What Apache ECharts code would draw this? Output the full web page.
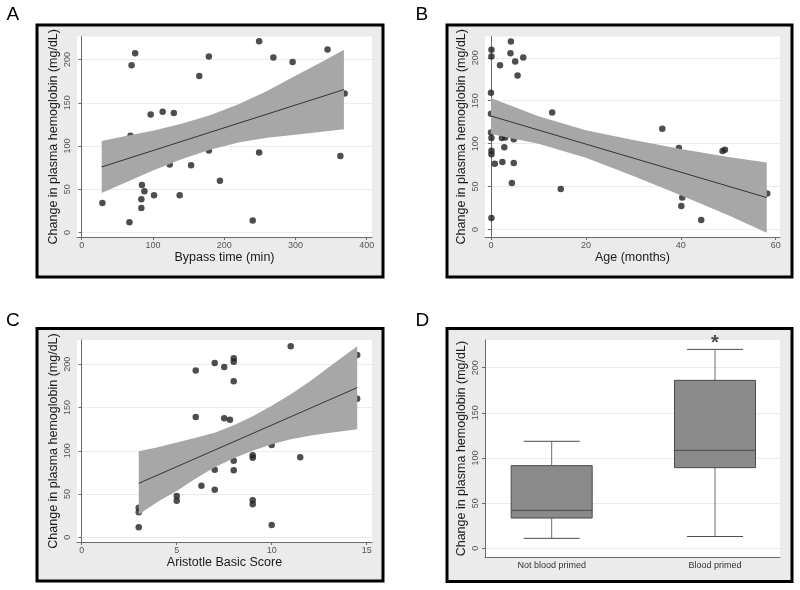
<!DOCTYPE html>
<html><head><meta charset="utf-8">
<script src="https://cdn.jsdelivr.net/npm/echarts@6/dist/echarts.min.js"></script>
<style>html,body{margin:0;padding:0;background:#fff}#c{width:800px;height:590px}</style>
</head><body><div id="c"></div><script>
// ---------- data ----------
const yTicks = [0, 50, 100, 150, 200];
const bypassTicks = [0, 100, 200, 300, 400];
const ageTicks = [0, 20, 40, 60];
const scoreTicks = [0, 5, 10, 15];
const yName = 'Change in plasma hemoglobin (mg/dL)';
const panelLetters = ['A', 'B', 'C', 'D'];

// Panel A: bypass time
const bypassTime = [29, 67, 68.5, 70, 75, 84.5, 88, 83.7, 83.7, 96.8, 101.5, 113.6, 123.5, 129.3, 137.5, 153.5, 165, 178.5, 178.5, 194, 240, 249, 249, 269, 296, 345, 363, 369];
const bypassChange = [34.2, 11.8, 112, 193.4, 207.3, 55, 47.8, 38.5, 28.3, 136.4, 43.1, 139.7, 78.6, 138.2, 43, 77.8, 181, 203.5, 94.8, 60, 13.9, 221.2, 92.5, 202.3, 197.3, 211.6, 88.4, 160.7];
const fitA = [[28, 75.8], [368, 165.3]];
const bandAx = [28, 60, 100, 140, 180, 220, 260, 300, 340, 368];
const bandAup = [105.8, 111.2, 117.7, 125.7, 135.7, 148.2, 163.7, 181.2, 198.7, 211.3];
const bandAlo = [45.8, 57.2, 71.7, 84.7, 95.7, 104.2, 109.7, 113.2, 116.7, 119.3];

// Panel B: age
const ageMonths = [0.1, 0.1, 1.9, 4.2, 4.1, 5.1, 6.8, 5.6, 0, 0, 12.9, 0, 0.1, 2.3, 3.0, 4.8, 0.1, 0.1, 0.8, 2.4, 2.8, 4.8, 4.4, 14.7, 0.1, 36.1, 39.6, 48.8, 49.3, 40.3, 40.1, 44.3, 58.2];
const ageChange = [209.5, 201.5, 191.4, 219, 205.3, 195.7, 200.3, 179.4, 159.3, 134.9, 136.4, 113.1, 106.5, 106.5, 107.3, 105, 91.8, 87.6, 76.7, 78.6, 95.7, 77.5, 54.2, 47.2, 13.5, 117.4, 94.9, 91.4, 93, 37.2, 27.4, 11.2, 41.9];
const fitB = [[0, 132.2], [58.1, 37.2]];
const bandBx = [0, 10, 20, 30, 40, 50, 58.1];
const bandBup = [153.2, 131.9, 115.5, 104.2, 93.8, 84.5, 78.2];
const bandBlo = [111.2, 99.9, 83.5, 62.2, 39.8, 16.5, -3.8];

// Panel C: Aristotle score
const aristotle = [3, 3, 3, 5, 5, 6, 6, 6.3, 7, 7, 7, 7.5, 7.5, 7.8, 8, 8, 8, 8, 8, 9, 9, 9, 9, 10, 10, 11, 11.5, 14.5, 14.5];
const aristotleChange = [11.6, 34.3, 28.9, 47.8, 42.4, 192.7, 139.1, 59.7, 201.5, 78.2, 55.1, 196.9, 137.6, 136, 206.9, 203.1, 180.3, 88.6, 77.5, 94.8, 92.1, 42.8, 38.2, 106.7, 14.3, 220.8, 92.5, 210.8, 160.3];
const fitC = [[3, 62.4], [14.5, 173]];
const bandCx = [3, 4, 5, 6, 7, 8, 9, 10, 11, 12, 13, 14.5];
const bandCup = [99.4, 104, 109.6, 115, 120.9, 129.5, 140.1, 152, 165.3, 180, 196.6, 221];
const bandClo = [26.5, 41, 53.6, 68, 80.9, 91.5, 100.1, 107.5, 113.3, 117.5, 120.6, 125];

// Panel D: box plot [min, Q1, median, Q3, max]
const primeCategories = ['Not blood primed', 'Blood primed'];
const boxNotPrimed = [11, 33.5, 42, 91.5, 118.5];
const boxPrimed = [13, 89.3, 108.5, 186, 220.3];
const significanceMark = '*';

// ---------- helpers ----------
const FONT = 'Liberation Sans, Arial, sans-serif';
const grids = [
  { left: 77, top: 36.5, width: 295, height: 200.5 },
  { left: 485, top: 36.5, width: 295, height: 200.5 },
  { left: 77, top: 340, width: 295, height: 202 },
  { left: 485, top: 340, width: 295, height: 217.3 }
].map(g => Object.assign(g, { show: true, backgroundColor: '#ffffff', borderWidth: 0 }));

function yAxisFor(gi, min, max) {
  return {
    type: 'value', gridIndex: gi, min: min, max: max,
    name: yName, nameLocation: 'middle', nameGap: 17,
    nameTextStyle: { fontSize: 12.5, color: '#1a1a1a', fontFamily: FONT },
    axisLine: { show: true, lineStyle: { color: '#6a6a6a', width: 1 } },
    axisTick: { show: true, length: 3, customValues: yTicks, lineStyle: { color: '#6a6a6a' } },
    axisLabel: { customValues: yTicks, rotate: 90, fontSize: 9, color: '#555', margin: 5, fontFamily: FONT },
    splitLine: { show: true, lineStyle: { color: '#ececec', width: 1 } }
  };
}
function xAxisFor(gi, min, max, ticks, name) {
  return {
    type: 'value', gridIndex: gi, min: min, max: max,
    name: name, nameLocation: 'middle', nameGap: 14,
    nameTextStyle: { fontSize: 12.5, color: '#1a1a1a', fontFamily: FONT },
    axisLine: { show: true, onZero: false, lineStyle: { color: '#6a6a6a', width: 1 } },
    axisTick: { show: true, length: 3, customValues: ticks, lineStyle: { color: '#6a6a6a' } },
    axisLabel: { customValues: ticks, fontSize: 9, color: '#555', margin: 4, fontFamily: FONT },
    splitLine: { show: false }
  };
}
function zip(xs, ys) { return xs.map((x, i) => [x, ys[i]]); }
function scatterSeries(gi, xs, ys) {
  return { type: 'scatter', xAxisIndex: gi, yAxisIndex: gi, data: zip(xs, ys), symbolSize: 6.5,
    itemStyle: { color: '#222' }, z: 2, silent: true };
}
function bandSeries(gi, xs, up, lo) {
  return {
    type: 'custom', xAxisIndex: gi, yAxisIndex: gi, z: 3, silent: true, data: [[xs[0], up[0]]],
    renderItem: function (params, api) {
      const pts = [];
      for (let i = 0; i < xs.length; i++) pts.push(api.coord([xs[i], up[i]]));
      for (let i = xs.length - 1; i >= 0; i--) pts.push(api.coord([xs[i], lo[i]]));
      return { type: 'polygon', shape: { points: pts }, style: { fill: '#a7a7a7' } };
    }
  };
}
function fitSeries(gi, pts) {
  return { type: 'line', xAxisIndex: gi, yAxisIndex: gi, data: pts, symbol: 'none', z: 4, silent: true,
    lineStyle: { color: '#333', width: 1 } };
}

const frames = [
  { x: 37, y: 25, w: 346, h: 252 },
  { x: 447, y: 25, w: 345, h: 252 },
  { x: 37, y: 328.5, w: 346, h: 252.5 },
  { x: 447, y: 328.5, w: 345, h: 253 }
];
const letterPos = [[6.5, 5], [415.5, 5], [6, 311], [415.5, 311]];
const graphic = [];
frames.forEach(f => graphic.push({ type: 'rect', z: -10, shape: { x: f.x, y: f.y, width: f.w, height: f.h },
  style: { fill: '#ebebeb', stroke: '#000', lineWidth: 3 } }));
panelLetters.forEach((t, i) => graphic.push({ type: 'text', z: 10, x: letterPos[i][0], y: letterPos[i][1],
  style: { text: t, fontSize: 19, fontFamily: FONT, fill: '#000', textVerticalAlign: 'top' } }));

const chart = echarts.init(document.getElementById('c'), null, { renderer: 'canvas' });
chart.setOption({
  backgroundColor: '#ffffff',
  animation: false,
  textStyle: { fontFamily: FONT },
  graphic: graphic,
  grid: grids,
  xAxis: [
    xAxisFor(0, -6.6, 407.4, bypassTicks, 'Bypass time (min)'),
    xAxisFor(1, -1.26, 60.9, ageTicks, 'Age (months)'),
    xAxisFor(2, -0.25, 15.28, scoreTicks, 'Aristotle Basic Score'),
    {
      type: 'value', gridIndex: 3, min: 0.5917, max: 2.398,
      axisLine: { show: true, onZero: false, lineStyle: { color: '#6a6a6a', width: 1 } },
      axisTick: { show: false },
      axisLabel: { customValues: [1, 2], fontSize: 9, color: '#333', margin: 4, fontFamily: FONT,
        formatter: v => primeCategories[Math.round(v) - 1] },
      splitLine: { show: false }
    }
  ],
  yAxis: [
    yAxisFor(0, -5.2, 226.7),
    yAxisFor(1, -8.7, 224.8),
    yAxisFor(2, -5.4, 228.1),
    yAxisFor(3, -10, 230.7)
  ],
  series: [
    scatterSeries(0, bypassTime, bypassChange),
    bandSeries(0, bandAx, bandAup, bandAlo),
    fitSeries(0, fitA),
    scatterSeries(1, ageMonths, ageChange),
    bandSeries(1, bandBx, bandBup, bandBlo),
    fitSeries(1, fitB),
    scatterSeries(2, aristotle, aristotleChange),
    bandSeries(2, bandCx, bandCup, bandClo),
    fitSeries(2, fitC),
    {
      type: 'custom', xAxisIndex: 3, yAxisIndex: 3, silent: true,
      data: [[1].concat(boxNotPrimed), [2].concat(boxPrimed)],
      renderItem: function (params, api) {
        const xi = api.value(0);
        const lo = api.coord([xi, api.value(1)]);
        const q1 = api.coord([xi, api.value(2)]);
        const md = api.coord([xi, api.value(3)]);
        const q3 = api.coord([xi, api.value(4)]);
        const hi = api.coord([xi, api.value(5)]);
        const unit = api.size([1, 0])[0];
        const bw = unit * 0.496, cw = unit * 0.343;
        const cx = lo[0];
        const wl = { stroke: '#6e6e6e', lineWidth: 1 };
        const dl = { stroke: '#4a4a4a', lineWidth: 1 };
        return { type: 'group', children: [
          { type: 'line', shape: { x1: cx, y1: q3[1], x2: cx, y2: hi[1] }, style: wl },
          { type: 'line', shape: { x1: cx, y1: q1[1], x2: cx, y2: lo[1] }, style: wl },
          { type: 'line', shape: { x1: cx - cw / 2, y1: hi[1], x2: cx + cw / 2, y2: hi[1] }, style: dl },
          { type: 'line', shape: { x1: cx - cw / 2, y1: lo[1], x2: cx + cw / 2, y2: lo[1] }, style: dl },
          { type: 'rect', shape: { x: cx - bw / 2, y: q3[1], width: bw, height: q1[1] - q3[1] },
            style: { fill: '#8a8a8a', stroke: '#4a4a4a', lineWidth: 1 } },
          { type: 'line', shape: { x1: cx - bw / 2, y1: md[1], x2: cx + bw / 2, y2: md[1] }, style: dl }
        ] };
      }
    },
    {
      type: 'scatter', xAxisIndex: 3, yAxisIndex: 3, silent: true,
      data: [[2, boxPrimed[4]]], symbolSize: 1, itemStyle: { color: 'rgba(0,0,0,0)' },
      label: { show: true, position: 'top', distance: -5, formatter: significanceMark,
        fontSize: 20, fontWeight: 'bold', color: '#222', fontFamily: FONT }
    }
  ]
});
</script></body></html>
